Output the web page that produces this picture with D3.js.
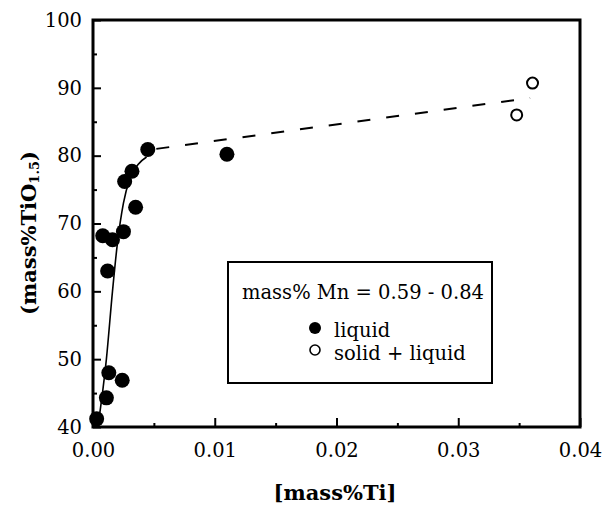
<!DOCTYPE html>
<html><head><meta charset="utf-8">
<script src="https://cdn.jsdelivr.net/npm/d3@7"></script>
<style>body{margin:0;background:#fff}svg{display:block}</style>
</head><body>
<script>
// ---- data ----
const liquidX = [0.0003,0.0011,0.0013,0.0024,0.0012,0.0008,0.0016,0.0025,0.0035,0.0026,0.0032,0.0045,0.0110];
const liquidY = [41.2,44.3,48.0,46.9,63.0,68.2,67.6,68.8,72.4,76.2,77.7,80.9,80.2];
const solidX = [0.0348,0.0361];
const solidY = [86.0,90.7];
const curveX = [0.0004,0.0011,0.0016,0.0020,0.0025,0.0030,0.0037,0.0044];
const curveY = [40,50,60,67,73,76.5,78.7,79.8];
const dashX = [0.0052,0.0359];
const dashY = [81.0,88.5];
const xTicks = [0,0.01,0.02,0.03,0.04];
const xMinor = [0.005,0.015,0.025,0.035];
const yTicks = [40,50,60,70,80,90,100];
const yMinor = [45,55,65,75,85,95];
const legendTitle = "mass% Mn = 0.59 - 0.84";
const legendLabels = ["liquid","solid + liquid"];

const W=605,H=512;
const L=93,R=580,T=20,B=427;
const FONT="'DejaVu Serif','Liberation Serif',serif";
const svg=d3.select("body").append("svg").attr("width",W).attr("height",H)
  .style("font-family",FONT);
const x=d3.scaleLinear().domain([0,0.04]).range([L,R]);
const y=d3.scaleLinear().domain([40,100]).range([B,T]);

// axes
const gx=svg.append("g").attr("transform",`translate(0,${B})`)
  .call(d3.axisBottom(x).tickValues(xTicks).tickFormat(d3.format(".2f")).tickSizeInner(-9).tickSizeOuter(0).tickPadding(16));
gx.append("g").call(d3.axisBottom(x).tickValues(xMinor).tickFormat("").tickSizeInner(-4).tickSizeOuter(0));
const gy=svg.append("g").attr("transform",`translate(${L},0)`)
  .call(d3.axisLeft(y).tickValues(yTicks).tickFormat(d3.format("d")).tickSizeInner(-8).tickSizeOuter(0).tickPadding(11));
gy.append("g").call(d3.axisLeft(y).tickValues(yMinor).tickFormat("").tickSizeInner(-4).tickSizeOuter(0));
svg.selectAll(".domain").remove();
svg.selectAll(".tick line").attr("stroke","#000").attr("stroke-width",2);
svg.selectAll(".tick text").attr("font-size",19.5).attr("fill","#000")
  .attr("font-family",FONT);

// frame
svg.append("rect").attr("x",L).attr("y",T).attr("width",R-L).attr("height",B-T)
  .attr("fill","none").attr("stroke","#000").attr("stroke-width",3);

// curve
const line=d3.line().x(d=>x(d[0])).y(d=>y(d[1])).curve(d3.curveMonotoneX);
svg.append("path").datum(curveX.map((v,i)=>[v,curveY[i]])).attr("d",line)
  .attr("fill","none").attr("stroke","#000").attr("stroke-width",1.6);
svg.append("path").datum(dashX.map((v,i)=>[v,dashY[i]])).attr("d",d3.line().x(d=>x(d[0])).y(d=>y(d[1])))
  .attr("fill","none").attr("stroke","#000").attr("stroke-width",2).attr("stroke-dasharray","13,16");

// points
svg.append("g").selectAll("circle").data(liquidX.map((v,i)=>[v,liquidY[i]])).join("circle")
  .attr("cx",d=>x(d[0])).attr("cy",d=>y(d[1])).attr("r",7.5).attr("fill","#000");
svg.append("g").selectAll("circle").data(solidX.map((v,i)=>[v,solidY[i]])).join("circle")
  .attr("cx",d=>x(d[0])).attr("cy",d=>y(d[1])).attr("r",5.5).attr("fill","#fff").attr("stroke","#000").attr("stroke-width",2);

// axis titles
svg.append("text").attr("x",335).attr("y",500).attr("text-anchor","middle")
  .attr("font-size",21).attr("font-weight","bold").text("[mass%Ti]");
const yt=svg.append("text").attr("transform","translate(36,233) rotate(-90)").attr("text-anchor","middle")
  .attr("font-size",21).attr("font-weight","bold");
yt.append("tspan").text("(mass%TiO");
yt.append("tspan").attr("font-size",13).attr("dy",3).text("1.5");
yt.append("tspan").attr("dy",-3).text(")");

// legend
const lg=svg.append("g");
lg.append("rect").attr("x",228).attr("y",262).attr("width",264).attr("height",121)
  .attr("fill","#fff").attr("stroke","#000").attr("stroke-width",2);
lg.append("text").attr("x",242).attr("y",299).attr("font-size",19.5).text(legendTitle);
lg.append("circle").attr("cx",315).attr("cy",328).attr("r",6).attr("fill","#000");
lg.append("circle").attr("cx",315).attr("cy",350).attr("r",5).attr("fill","#fff").attr("stroke","#000").attr("stroke-width",1.6);
lg.append("text").attr("x",334).attr("y",337).attr("font-size",19.5).text(legendLabels[0]);
lg.append("text").attr("x",334).attr("y",360).attr("font-size",19.5).text(legendLabels[1]);
</script>
</body></html>
